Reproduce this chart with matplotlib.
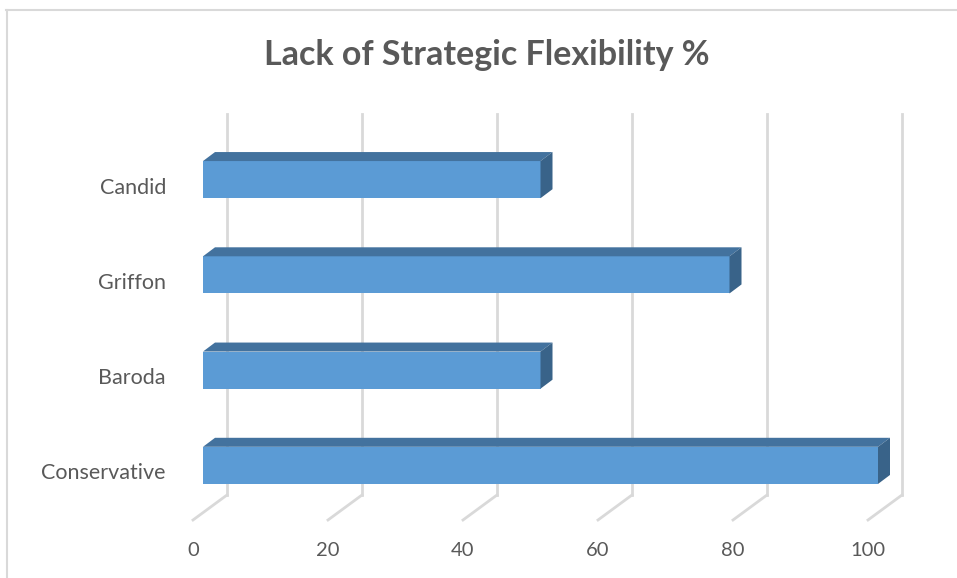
import matplotlib.pyplot as plt
import matplotlib.transforms as mtransforms
from matplotlib.patches import Polygon, Rectangle
from matplotlib.lines import Line2D

categories = ["Conservative", "Baroda", "Griffon", "Candid"]
values = [100, 50, 78, 50]
x_ticks = [0, 20, 40, 60, 80, 100]
title = "Lack of Strategic Flexibility %"

front_color = "#5B9BD5"
top_color = "#43729E"
side_color = "#396389"
grid_color = "#D9D9D9"
text_color = "#595959"

fig = plt.figure(figsize=(9.57, 5.78), dpi=100)
W, H = 957, 578
# front plane: x=0 -> px 203, x=100 -> px 878 ; y=-0.5 -> px 513, y=3.5 -> px 132
ax = fig.add_axes([203 / W, (H - 513) / H, 675 / W, 381 / H])
ax.set_xlim(0, 100)
ax.set_ylim(-0.5, len(categories) - 0.5)
ax.axis("off")


def shifted(dx, dy):
    # offset in pixels (dy up positive)
    return ax.transData + mtransforms.ScaledTranslation(dx / 100, dy / 100, fig.dpi_scale_trans)


back_dx, back_dy = 24, 18
bar_dx, bar_dy = 12, 9
bar_h = 0.39

# back wall gridlines and floor lines
y0, y1 = -0.5, len(categories) - 0.5
for t in x_ticks:
    ax.add_line(Line2D([t, t], [y0, y1], color=grid_color, lw=2,
                       transform=shifted(back_dx, back_dy), clip_on=False))
    # floor: from back plane to slightly in front of the front plane
    bx, by = shifted(back_dx, back_dy).transform((t, y0))
    fx, fy = shifted(-10, -7).transform((t, y0))
    fig.add_artist(Line2D([bx / 100, fx / 100], [by / 100, fy / 100], color=grid_color, lw=2,
                          transform=fig.dpi_scale_trans))
    ax.text(t, y0, str(t), transform=shifted(-10, -38), ha="center", va="center",
            fontsize=14.5, color=text_color, family="Lato")

# 3D bars
for i, v in enumerate(values):
    yb, yt = i - bar_h / 2, i + bar_h / 2
    ax.add_patch(Rectangle((0, yb), v, bar_h, facecolor=front_color, edgecolor="none", zorder=3))
    # top face
    p0 = ax.transData.transform((0, yt))
    p1 = ax.transData.transform((v, yt))
    top = [p0, p1, p1 + [bar_dx, bar_dy], p0 + [bar_dx, bar_dy]]
    # side face
    q0 = ax.transData.transform((v, yb))
    side = [q0, p1, p1 + [bar_dx, bar_dy], q0 + [bar_dx, bar_dy]]
    for pts, col in [(top, top_color), (side, side_color)]:
        ax.add_patch(Polygon([(px / 100, py / 100) for px, py in pts], closed=True,
                             facecolor=col, edgecolor="none", transform=fig.dpi_scale_trans,
                             zorder=3, clip_on=False))
    ax.text(0, i, categories[i], transform=shifted(-37, -8), ha="right", va="center",
            fontsize=15.5, color=text_color, family="Lato")

fig.text(487 / W, 1 - 55 / H, title, ha="center", va="center", fontsize=24.5,
         fontweight="bold", color=text_color, family="Lato")

# chart border
fig.add_artist(Line2D([6 / W, 1], [1 - 10 / H, 1 - 10 / H], color=grid_color, lw=1.5,
                      transform=fig.transFigure))
fig.add_artist(Line2D([7 / W, 7 / W], [0, 1 - 10 / H], color=grid_color, lw=1.5,
                      transform=fig.transFigure))

fig.savefig("out.png", dpi=100)
